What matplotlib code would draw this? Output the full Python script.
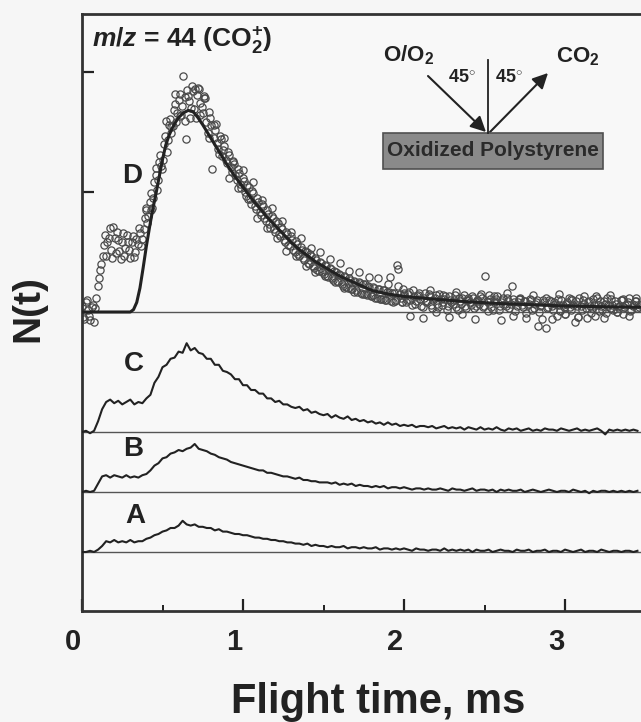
import matplotlib.pyplot as plt
import matplotlib.transforms as mtransforms
from matplotlib.patches import Rectangle
import numpy as np

plt.rcParams['font.family'] = ['Liberation Sans', 'DejaVu Sans']
plt.rcParams['font.weight'] = 'bold'
plt.rcParams['mathtext.fontset'] = 'custom'
plt.rcParams['mathtext.rm'] = 'Liberation Sans:bold'
plt.rcParams['mathtext.it'] = 'Liberation Sans:italic:bold'
plt.rcParams['mathtext.bf'] = 'Liberation Sans:bold'

# ---- data (signal above each trace's baseline, arbitrary units) ----
# trace A, B, C sampled every 0.025 ms
trace_a = [0.00, 0.00, 0.01, 0.00, 0.02, 0.05, 0.09, 0.08, 0.10, 0.08, 0.09, 0.08, 0.10, 0.08, 0.09, 0.09,
           0.11, 0.12, 0.14, 0.15, 0.17, 0.18, 0.20, 0.20, 0.22, 0.26, 0.23, 0.22, 0.23, 0.21, 0.21, 0.20,
           0.20, 0.18, 0.19, 0.17, 0.17, 0.16, 0.15, 0.15, 0.14, 0.14, 0.13, 0.12, 0.12, 0.11, 0.11, 0.10,
           0.10, 0.09, 0.09, 0.08, 0.08, 0.07, 0.07, 0.06, 0.07, 0.05, 0.06, 0.05, 0.05, 0.04, 0.05, 0.04,
           0.04, 0.05, 0.03, 0.04, 0.04, 0.03, 0.04, 0.03, 0.03, 0.04, 0.02, 0.03, 0.03, 0.02, 0.03, 0.02,
           0.03, 0.02, 0.01, 0.03, 0.02, 0.02, 0.01, 0.02, 0.02, 0.01, 0.03, 0.01, 0.02, 0.01, 0.02, 0.01,
           0.02, 0.00, 0.02, 0.01, 0.01, 0.02, 0.00, 0.01, 0.02, 0.01, 0.01, 0.00, 0.02, 0.01, 0.01, 0.02,
           0.00, 0.01, 0.01, 0.02, 0.00, 0.01, 0.01, 0.00, 0.02, 0.01, 0.00, 0.01, 0.02, 0.00, 0.01, 0.01,
           0.00, 0.02, 0.01, 0.00, 0.01, 0.01, 0.00, 0.01, 0.01, 0.00, 0.01]
trace_b = [0.00, 0.01, 0.00, 0.01, 0.07, 0.13, 0.14, 0.12, 0.14, 0.13, 0.12, 0.14, 0.12, 0.13, 0.12, 0.14,
           0.15, 0.18, 0.22, 0.24, 0.28, 0.29, 0.32, 0.33, 0.35, 0.34, 0.36, 0.37, 0.40, 0.36, 0.35, 0.34,
           0.32, 0.31, 0.29, 0.28, 0.27, 0.25, 0.24, 0.23, 0.22, 0.21, 0.20, 0.19, 0.18, 0.18, 0.16, 0.16,
           0.15, 0.14, 0.13, 0.13, 0.12, 0.11, 0.12, 0.10, 0.10, 0.09, 0.09, 0.08, 0.08, 0.08, 0.07, 0.08,
           0.06, 0.07, 0.06, 0.07, 0.05, 0.06, 0.05, 0.05, 0.04, 0.05, 0.04, 0.05, 0.03, 0.04, 0.04, 0.03,
           0.04, 0.03, 0.02, 0.03, 0.03, 0.02, 0.03, 0.02, 0.02, 0.03, 0.02, 0.01, 0.03, 0.02, 0.02, 0.01,
           0.02, 0.03, 0.01, 0.02, 0.02, 0.01, 0.02, 0.00, 0.02, 0.01, 0.02, 0.01, 0.01, 0.02, 0.00, 0.01,
           0.02, 0.01, 0.00, 0.01, 0.02, 0.01, 0.00, 0.01, 0.01, 0.00, 0.02, 0.01, 0.00, 0.01, -0.01, 0.01,
           0.00, 0.01, 0.01, 0.00, 0.01, 0.00, 0.01, 0.00, 0.01, 0.00, 0.01]
trace_c = [0.00, 0.01, -0.01, 0.01, 0.09, 0.19, 0.25, 0.27, 0.24, 0.26, 0.23, 0.25, 0.27, 0.23, 0.25, 0.24,
           0.28, 0.31, 0.41, 0.46, 0.54, 0.56, 0.61, 0.62, 0.67, 0.66, 0.74, 0.68, 0.70, 0.66, 0.65, 0.61,
           0.61, 0.56, 0.56, 0.51, 0.50, 0.48, 0.44, 0.44, 0.39, 0.39, 0.35, 0.35, 0.32, 0.32, 0.28, 0.28,
           0.25, 0.26, 0.23, 0.23, 0.21, 0.20, 0.21, 0.18, 0.19, 0.16, 0.17, 0.15, 0.14, 0.15, 0.12, 0.14,
           0.12, 0.11, 0.13, 0.10, 0.11, 0.09, 0.10, 0.08, 0.09, 0.07, 0.08, 0.06, 0.08, 0.06, 0.07, 0.05,
           0.06, 0.05, 0.06, 0.04, 0.05, 0.05, 0.04, 0.05, 0.03, 0.04, 0.05, 0.03, 0.04, 0.03, 0.04, 0.02,
           0.04, 0.03, 0.02, 0.04, 0.02, 0.03, 0.02, 0.04, 0.02, 0.01, 0.03, 0.02, 0.03, 0.01, 0.02, 0.03,
           0.01, 0.02, 0.01, 0.03, 0.02, 0.02, 0.01, 0.03, 0.02, 0.01, 0.02, 0.03, 0.01, 0.02, 0.01, 0.02,
           0.03, 0.01, -0.02, 0.02, 0.01, 0.02, 0.01, 0.02, 0.01, 0.02, 0.01]
# trace D measured points: two interleaved sets, each sampled every 0.015 ms
points_d = [0.05, -0.06, 0.10, -0.03, 0.04, -0.08, 0.12, 0.28, 0.40, 0.56, 0.47, 0.62, 0.52, 0.71, 0.49, 0.60,
            0.44, 0.66, 0.53, 0.58, 0.45, 0.63, 0.50, 0.57, 0.66, 0.61, 0.78, 0.74, 0.92, 0.87, 1.08, 1.02,
            1.25, 1.19, 1.40, 1.33, 1.56, 1.49, 1.68, 1.58, 1.77, 1.64, 1.97, 1.44, 1.80, 1.70, 1.84, 1.62,
            1.87, 1.74, 1.66, 1.78, 1.49, 1.62, 1.19, 1.52, 1.41, 1.47, 1.30, 1.38, 1.24, 1.31, 1.17, 1.23,
            1.10, 1.16, 1.03, 1.09, 0.97, 1.04, 0.90, 0.99, 0.86, 0.92, 0.81, 0.88, 0.76, 0.82, 0.70, 0.78,
            0.67, 0.74, 0.63, 0.69, 0.58, 0.65, 0.55, 0.60, 0.50, 0.57, 0.47, 0.52, 0.43, 0.50, 0.40, 0.47,
            0.37, 0.43, 0.34, 0.41, 0.32, 0.38, 0.29, 0.36, 0.27, 0.33, 0.25, 0.31, 0.22, 0.29, 0.20, 0.27,
            0.19, 0.25, 0.17, 0.24, 0.15, 0.23, 0.14, 0.21, 0.13, 0.20, 0.12, 0.19, 0.11, 0.18, 0.10, 0.17,
            0.09, 0.16, 0.10, 0.36, 0.12, 0.19, 0.08, 0.15, 0.10, 0.18, 0.07, 0.14, 0.11, 0.04, 0.16, 0.09,
            0.13, 0.03, 0.12, 0.07, 0.15, 0.06, 0.11, 0.02, 0.13, 0.08, 0.10, 0.04, 0.12, 0.07, 0.14, 0.03,
            0.10, 0.06, 0.12, 0.05, 0.09, 0.13, 0.04, 0.30, 0.08, 0.11, 0.02, 0.09, 0.13, 0.05, 0.10, 0.07,
            0.12, 0.03, 0.22, 0.08, 0.05, 0.11, 0.06, 0.09, -0.01, 0.07, 0.10, 0.03, 0.08, -0.12, 0.06, 0.10,
            -0.13, 0.04, 0.09, 0.02, 0.07, 0.11, 0.01, 0.06, -0.02, 0.08, 0.04, 0.10, -0.08, 0.05, 0.12, 0.02,
            0.07, -0.05, 0.09, 0.03, 0.06, 0.13, 0.01, 0.05, 0.09, -0.01, 0.06, 0.11, 0.02, 0.07, 0.04, 0.10,
            -0.02, 0.06, 0.08, 0.01, 0.05, 0.09, 0.03, 0.06]
points_d2 = [-0.04, 0.08, 0.02, -0.07, 0.06, 0.03, 0.22, 0.35, 0.47, 0.64, 0.58, 0.70, 0.45, 0.62, 0.67, 0.51,
             0.58, 0.47, 0.64, 0.52, 0.58, 0.46, 0.61, 0.70, 0.55, 0.69, 0.85, 0.80, 0.99, 0.95, 1.14, 1.10,
             1.31, 1.27, 1.47, 1.43, 1.61, 1.55, 1.73, 1.66, 1.82, 1.72, 1.59, 1.85, 1.76, 1.88, 1.69, 1.81,
             1.86, 1.71, 1.80, 1.58, 1.67, 1.56, 1.45, 1.57, 1.36, 1.44, 1.35, 1.27, 1.33, 1.21, 1.26, 1.14,
             1.19, 1.07, 1.12, 1.00, 1.06, 0.94, 1.01, 0.88, 0.95, 0.83, 0.90, 0.78, 0.85, 0.73, 0.80, 0.69,
             0.76, 0.65, 0.71, 0.60, 0.67, 0.56, 0.63, 0.52, 0.59, 0.48, 0.54, 0.45, 0.51, 0.41, 0.48, 0.38,
             0.45, 0.35, 0.42, 0.33, 0.39, 0.30, 0.37, 0.28, 0.34, 0.26, 0.32, 0.23, 0.30, 0.21, 0.28, 0.19,
             0.26, 0.18, 0.25, 0.16, 0.23, 0.15, 0.22, 0.13, 0.21, 0.12, 0.19, 0.11, 0.18, 0.10, 0.17, 0.29,
             0.16, 0.09, 0.39, 0.15, 0.08, 0.14, 0.10, 0.17, 0.06, 0.13, 0.09, 0.16, 0.05, 0.12, 0.08, 0.15,
             0.06, 0.10, 0.14, 0.04, 0.11, 0.08, 0.13, 0.05, 0.10, 0.07, 0.14, 0.02, 0.09, 0.12, 0.05, 0.10,
             0.08, 0.13, 0.03, 0.10, 0.07, 0.12, 0.05, 0.09, 0.14, 0.04, 0.08, 0.11, 0.02, 0.08, 0.12, 0.05,
             0.09, 0.07, 0.11, 0.01, 0.08, 0.12, 0.04, 0.09, 0.06, 0.11, 0.02, 0.07, 0.10, 0.05, -0.06, 0.08,
             0.03, 0.10, 0.05, 0.08, -0.03, 0.06, 0.10, 0.04, 0.07, 0.12, 0.02, 0.06, 0.09, -0.04, 0.05, 0.10,
             0.03, 0.08, 0.05, 0.11, -0.03, 0.06, 0.09, 0.02, 0.07, 0.12, 0.03, 0.06, 0.09, 0.00, 0.05, 0.10,
             0.04, 0.07, 0.12, 0.02, 0.06, 0.09, 0.04]
# extra scattered D points: 0.40-1.99 ms every 0.03 ms, and 2.00-3.44 ms every 0.04 ms
points_d3 = [0.87, 0.85, 1.20, 1.22, 1.59, 1.54, 1.82, 1.63, 1.79, 1.62, 1.86, 1.64, 1.78, 1.45, 1.56, 1.32,
             1.45, 1.12, 1.25, 1.03, 1.18, 0.94, 1.08, 0.78, 0.93, 0.70, 0.87, 0.62, 0.76, 0.51, 0.67, 0.47,
             0.62, 0.38, 0.53, 0.33, 0.50, 0.30, 0.44, 0.25, 0.41, 0.20, 0.34, 0.17, 0.33, 0.15, 0.29, 0.14,
             0.28, 0.11, 0.23, 0.08, 0.22, 0.08]
points_d4 = [0.16, -0.03, 0.13, -0.05, 0.18, 0.00, 0.14, -0.04, 0.17, -0.02, 0.12, -0.06, 0.15, 0.01, 0.13,
             -0.07, 0.16, -0.03, 0.11, -0.05, 0.14, 0.00, 0.12, -0.06, 0.15, -0.02, 0.11, -0.04, 0.13, -0.01,
             0.12, -0.05, 0.14, 0.00, 0.11, -0.03, 0.12]
# fitted curve for D
fit_t = [0.00, 0.30, 0.32, 0.34, 0.36, 0.38, 0.40, 0.42, 0.44, 0.46, 0.48, 0.50, 0.52, 0.54, 0.56, 0.58,
         0.60, 0.63, 0.66, 0.69, 0.72, 0.75, 0.80, 0.85, 0.90, 0.95, 1.00, 1.05, 1.10, 1.15, 1.20, 1.25,
         1.30, 1.35, 1.40, 1.45, 1.50, 1.60, 1.70, 1.80, 1.90, 2.00, 2.20, 2.40, 2.60, 2.80, 3.00, 3.20, 3.47]
fit_d = [0.00, 0.00, 0.02, 0.08, 0.20, 0.37, 0.55, 0.71, 0.86, 0.99, 1.13, 1.27, 1.39, 1.47, 1.53, 1.58,
         1.62, 1.66, 1.68, 1.67, 1.62, 1.56, 1.45, 1.34, 1.23, 1.13, 1.04, 0.95, 0.87, 0.79, 0.72, 0.65,
         0.58, 0.52, 0.47, 0.42, 0.38, 0.30, 0.24, 0.18, 0.15, 0.13, 0.105, 0.085, 0.07, 0.06, 0.05, 0.045, 0.04]

labels = ['A', 'B', 'C', 'D']
offsets = [0.0, 0.5, 1.0, 2.0]
label_t = [0.33, 0.32, 0.32, 0.31]
label_y = [0.30, 0.86, 1.57, 3.13]

W, H = 641, 722
fig = plt.figure(figsize=(W / 100, H / 100), dpi=100, facecolor='#f6f6f6')
ax = fig.add_axes([82 / W, 1 - 611 / H, 1 - 82 / W, (611 - 14) / H])
ax.set_facecolor('#f8f8f8')

ink = '#222222'
for off in offsets:
    ax.axhline(off, color='#555555', lw=1.0, zorder=1)

step = 0.025
for tr, off in zip([trace_a, trace_b, trace_c], offsets[:3]):
    t = np.arange(len(tr)) * step
    ax.plot(t, np.array(tr) + off, color=ink, lw=1.5, zorder=3)

d_sets = [(0.0, 0.015, points_d), (0.0075, 0.015, points_d2),
          (0.40, 0.03, points_d3), (2.00, 0.04, points_d4)]
for t0, dt, pts in d_sets:
    tt = t0 + np.arange(len(pts)) * dt
    ax.plot(tt, np.array(pts) + offsets[3], ls='none', marker='o', ms=5.2,
            mfc='none', mec='#4a4a4a', mew=0.9, zorder=2)
ax.plot(fit_t, np.array(fit_d) + offsets[3], color=ink, lw=2.2, zorder=4)

for lab, tx, ty in zip(labels, label_t, label_y):
    ax.text(tx, ty, lab, fontsize=20, fontweight='bold', color=ink, ha='center', va='center')

ax.set_xlim(0, (W - 82) / 161)
ax.set_ylim(-(611 - 552) / 120, (552 - 14) / 120)
ax.set_xticks([0, 1, 2, 3])
ax.set_xticks([0.5, 1.5, 2.5], minor=True)
ax.set_xticklabels(['0', '1', '2', '3'], fontsize=21, fontweight='bold', color=ink)
ax.set_yticks([3.0, 4.0])
ax.set_yticklabels([])
ax.tick_params(axis='both', which='major', direction='in', length=8.5, width=1.6, color=ink)
ax.tick_params(axis='x', which='minor', direction='in', length=4.5, width=1.4, color=ink)
ax.tick_params(axis='x', which='major', pad=12)
shift = mtransforms.ScaledTranslation(-9 / 100, 0, fig.dpi_scale_trans)
for lbl in ax.get_xticklabels():
    lbl.set_transform(lbl.get_transform() + shift)

for s in ['left', 'top', 'bottom']:
    ax.spines[s].set_linewidth(2.0)
    ax.spines[s].set_color('#333333')
ax.spines['right'].set_visible(False)


def px(x, y):
    return (x / W, 1 - y / H)


fig.text(*px(378, 713), 'Flight time, ms', fontsize=30, fontweight='bold', color=ink,
         ha='center', va='baseline')
fig.text(*px(28, 309), 'N(t)', fontsize=28, fontweight='bold', color=ink,
         ha='center', va='center', rotation=90)
fig.text(*px(92, 47), r'$\it{m}$/$\it{z}$ = 44 (CO$_2^{+}$)', fontsize=19, fontweight='bold',
         color=ink, ha='left', va='baseline')

# inset sketch
fig.add_artist(Rectangle(px(383, 169), 220 / W, 36 / H, transform=fig.transFigure,
                         facecolor='#8a8a8a', edgecolor='#505050', lw=1.2))
fig.text(*px(493, 151), 'Oxidized Polystyrene', fontsize=15, fontweight='bold',
         color='#2a2a2a', ha='center', va='center')
fig.add_artist(plt.Line2D([488 / W, 488 / W], [1 - 60 / H, 1 - 133 / H],
                          transform=fig.transFigure, color=ink, lw=1.3))
arrow = dict(arrowstyle='-|>', color=ink, lw=1.5, mutation_scale=23, shrinkA=0, shrinkB=0)
ax.annotate('', xy=px(486, 132), xytext=px(428, 76), xycoords='figure fraction',
            textcoords='figure fraction', arrowprops=arrow)
ax.annotate('', xy=px(548, 73), xytext=px(490, 132), xycoords='figure fraction',
            textcoords='figure fraction', arrowprops=arrow)
fig.text(*px(409, 55), r'O/O$_2$', fontsize=16, fontweight='bold', color=ink,
         ha='center', va='center')
fig.text(*px(578, 57), r'CO$_2$', fontsize=16, fontweight='bold', color=ink,
         ha='center', va='center')
fig.text(*px(462, 77), r'45$^{\circ}$', fontsize=13, fontweight='bold', color=ink,
         ha='center', va='center')
fig.text(*px(509, 77), r'45$^{\circ}$', fontsize=13, fontweight='bold', color=ink,
         ha='center', va='center')

fig.savefig('out.png', dpi=100, facecolor=fig.get_facecolor())
